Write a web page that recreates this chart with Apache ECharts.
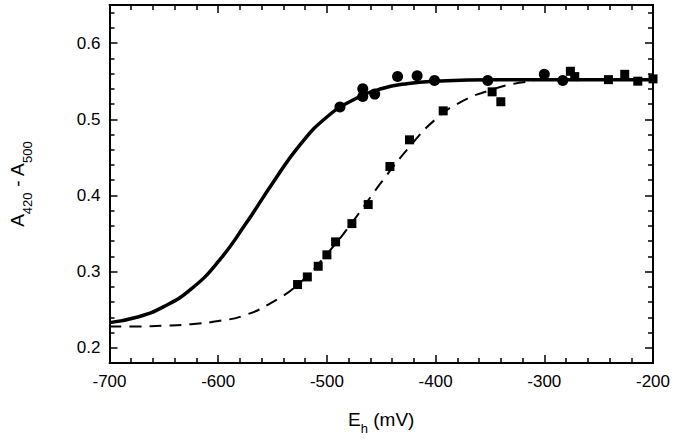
<!DOCTYPE html>
<html><head><meta charset="utf-8">
<script src="https://cdn.jsdelivr.net/npm/echarts@6/dist/echarts.min.js"></script>
<style>html,body{margin:0;padding:0;background:#fff}#c{width:674px;height:446px}</style>
</head><body><div id="c"></div>
<script>
// Data
const circleE = [-488, -467, -467, -456, -435, -417, -401, -352, -300, -283];
const circleA = [0.516, 0.540, 0.530, 0.533, 0.556, 0.557, 0.551, 0.551, 0.559, 0.551];
const squareE = [-527, -518, -508, -500, -492, -477, -462, -442, -424, -393, -348, -340, -276, -272, -241, -226, -214, -200];
const squareA = [0.283, 0.293, 0.307, 0.322, 0.339, 0.363, 0.388, 0.438, 0.473, 0.511, 0.536, 0.523, 0.563, 0.556, 0.552, 0.559, 0.550, 0.553];
const solidE = [-700, -675, -650, -625, -600, -575, -550, -525, -500, -475, -450, -425, -400, -350, -300, -250, -200];
const solidA = [0.233, 0.240, 0.254, 0.277, 0.313, 0.362, 0.416, 0.466, 0.503, 0.526, 0.540, 0.547, 0.550, 0.552, 0.552, 0.552, 0.552];
const dashE = [-700, -675, -650, -625, -600, -575, -550, -525, -500, -475, -450, -425, -400, -375, -350, -330, -310];
const dashA = [0.228, 0.228, 0.229, 0.231, 0.235, 0.243, 0.260, 0.285, 0.323, 0.368, 0.417, 0.462, 0.500, 0.524, 0.538, 0.546, 0.550];
const xTicks = [-700, -600, -500, -400, -300, -200];
const yTicks = [0.2, 0.3, 0.4, 0.5, 0.6];
const yMinorTicks = [0.22, 0.24, 0.26, 0.28, 0.32, 0.34, 0.36, 0.38, 0.42, 0.44, 0.46, 0.48, 0.52, 0.54, 0.56, 0.58, 0.62, 0.64];

const pairs = (xs, ys) => xs.map((x, i) => [x, ys[i]]);
const FONT = 'Liberation Sans, Arial, sans-serif';
const lineStyle = {color: '#000', width: 2};

const chart = echarts.init(document.getElementById('c'), null, {renderer: 'svg'});
const yBase = {type: 'value', min: 0.18, max: 0.65, splitLine: {show: false}};
chart.setOption({
  animation: false,
  backgroundColor: '#fff',
  grid: {left: 108, right: 21, top: 5, bottom: 83},
  xAxis: [
    {type: 'value', min: -700, max: -200, interval: 100, position: 'bottom',
     axisLine: {lineStyle}, splitLine: {show: false},
     axisTick: {inside: true, length: 8, lineStyle: {color: '#000', width: 1.5}},
     minorTick: {show: true, splitNumber: 5, length: 5, lineStyle: {color: '#000', width: 1.5}},
     axisLabel: {color: '#000', fontSize: 17, fontFamily: FONT, margin: 10, customValues: xTicks},
     name: '{a|E}{s|h}{a| (mV)}', nameLocation: 'middle', nameGap: 44,
     nameTextStyle: {rich: {
       a: {fontSize: 19, fontFamily: FONT, color: '#000', lineHeight: 24},
       s: {fontSize: 13, fontFamily: FONT, color: '#000', verticalAlign: 'bottom', lineHeight: 14, padding: [0, 0, -4, 0]}}}},
    {type: 'value', min: -700, max: -200, interval: 100, position: 'top',
     axisLine: {lineStyle}, splitLine: {show: false},
     axisTick: {inside: true, length: 8, lineStyle: {color: '#000', width: 1.5}},
     minorTick: {show: true, splitNumber: 5, length: 5, lineStyle: {color: '#000', width: 1.5}},
     axisLabel: {show: false}}
  ],
  yAxis: [
    Object.assign({}, yBase, {position: 'left',
     axisLine: {show: true, lineStyle},
     axisTick: {show: true, inside: true, length: 8, customValues: yTicks, lineStyle: {color: '#000', width: 1.5}},
     axisLabel: {color: '#000', fontSize: 17, fontFamily: FONT, margin: 9, customValues: yTicks, formatter: v => v.toFixed(1)},
     name: '{a|A}{s|420}{a| - A}{s|500}', nameLocation: 'middle', nameRotate: 90, nameGap: 80,
     nameTextStyle: {rich: {
       a: {fontSize: 19, fontFamily: FONT, color: '#000', lineHeight: 24},
       s: {fontSize: 13, fontFamily: FONT, color: '#000', verticalAlign: 'bottom', lineHeight: 14, padding: [0, 0, -4, 0]}}}}),
    Object.assign({}, yBase, {position: 'left',
     axisLine: {show: false},
     axisTick: {show: true, inside: true, length: 5, customValues: yMinorTicks, lineStyle: {color: '#000', width: 1.5}},
     axisLabel: {show: false}}),
    Object.assign({}, yBase, {position: 'right',
     axisLine: {show: true, lineStyle},
     axisTick: {show: true, inside: true, length: 8, customValues: yTicks, lineStyle: {color: '#000', width: 1.5}},
     axisLabel: {show: false}}),
    Object.assign({}, yBase, {position: 'right',
     axisLine: {show: false},
     axisTick: {show: true, inside: true, length: 5, customValues: yMinorTicks, lineStyle: {color: '#000', width: 1.5}},
     axisLabel: {show: false}})
  ],
  series: [
    {type: 'line', data: pairs(solidE, solidA), smooth: 0.5, showSymbol: false,
     lineStyle: {color: '#000', width: 3.5}, z: 3},
    {type: 'line', data: pairs(dashE, dashA), smooth: 0.5, showSymbol: false,
     lineStyle: {color: '#000', width: 2, type: [12, 8]}, z: 3},
    {type: 'scatter', data: pairs(circleE, circleA), symbol: 'circle', symbolSize: 11,
     itemStyle: {color: '#000', opacity: 1}, z: 4},
    {type: 'scatter', data: pairs(squareE, squareA), symbol: 'rect', symbolSize: 9,
     itemStyle: {color: '#000', opacity: 1}, z: 4}
  ]
});
</script></body></html>
